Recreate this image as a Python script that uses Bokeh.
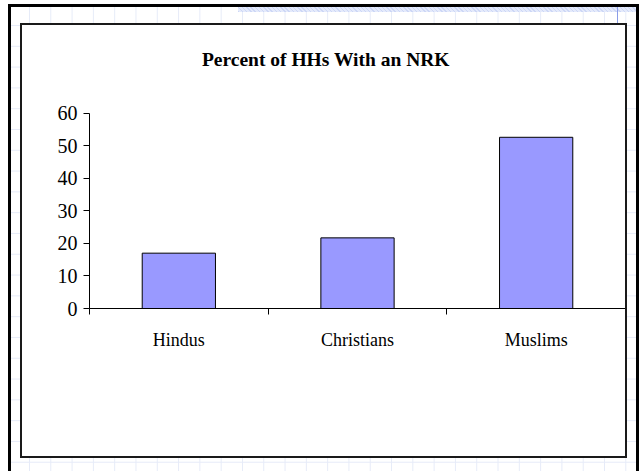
from bokeh.plotting import figure
from bokeh.layouts import column
from bokeh.models import Range1d, LinearAxis, FixedTicker, Label
from bokeh.embed import file_html
from bokeh.resources import INLINE

categories = ["Hindus", "Christians", "Muslims"]
values = [17.0, 21.7, 52.6]
y_ticks = [0, 10, 20, 30, 40, 50, 60]
title_text = "Percent of HHs With an NRK"

FONT = "Liberation Serif"

n = len(categories)
centers = [i + 0.5 for i in range(n)]
edges = list(range(n + 1))

# frame runs from the top of the inner box down to the value axis;
# the value axis itself covers only 0..60 (axis bounds), leaving room for the title
FIG_W, FIG_H = 603, 431
BORDER_BOTTOM = 148
frame_h = FIG_H - BORDER_BOTTOM
px_per_unit = 195.3 / (y_ticks[-1] - y_ticks[0])
y_top = frame_h / px_per_unit

p = figure(width=FIG_W, height=FIG_H,
           x_range=Range1d(0, n), y_range=Range1d(y_ticks[0], y_top),
           output_backend="svg", toolbar_location=None,
           x_axis_location=None, y_axis_location=None,
           min_border_left=67, min_border_right=0, min_border_top=0,
           min_border_bottom=BORDER_BOTTOM)
p.border_fill_color = "white"
p.background_fill_color = "white"
p.outline_line_color = None
p.xgrid.visible = False
p.ygrid.visible = False

# title (baseline ~33.5px below the inner box top, centred left of the frame centre)
title = Label(x=1.323, y=(frame_h - 33.5) / px_per_unit, text=title_text,
              text_font=FONT, text_font_style="bold", text_font_size="19.5px",
              text_color="black", text_align="center", text_baseline="alphabetic")
p.add_layout(title)

# bars
p.vbar(x=centers, top=values, width=0.41, fill_color="#9999ff",
       line_color="black", line_width=1)

# y axis
yax = LinearAxis(ticker=FixedTicker(ticks=y_ticks, minor_ticks=[]),
                 bounds=(y_ticks[0], y_ticks[-1]))
yax.major_tick_out = 6
yax.major_tick_in = 0
yax.minor_tick_line_color = None
yax.axis_line_color = "black"
yax.major_tick_line_color = "black"
yax.major_label_text_font = FONT
yax.major_label_text_font_size = "20px"
yax.major_label_text_color = "black"
yax.major_label_standoff = 6
p.add_layout(yax, "left")

# x axis: boundary ticks between categories
edge_ax = LinearAxis(ticker=FixedTicker(ticks=edges, minor_ticks=[]))
edge_ax.major_tick_out = 6
edge_ax.major_tick_in = 0
edge_ax.minor_tick_line_color = None
edge_ax.axis_line_color = "black"
edge_ax.major_tick_line_color = "black"
edge_ax.major_label_text_color = None
edge_ax.major_label_text_font_size = "1px"
edge_ax.major_label_standoff = 0
p.add_layout(edge_ax, "below")

# x axis: category names at the centres
cat_ax = LinearAxis(ticker=FixedTicker(ticks=centers, minor_ticks=[]),
                    major_label_overrides={c: name for c, name in zip(centers, categories)})
cat_ax.axis_line_color = None
cat_ax.major_tick_line_color = None
cat_ax.minor_tick_line_color = None
cat_ax.major_label_text_font = FONT
cat_ax.major_label_text_font_size = "18px"
cat_ax.major_label_text_color = "black"
cat_ax.major_label_standoff = 9
p.add_layout(cat_ax, "below")

inner_box = column(p, styles={
    "border": "2px solid #1a1a1a",
    "background-color": "white",
})

outer_box = column(inner_box, styles={
    "margin-left": "8px",
    "margin-top": "4px",
    "border": "3px solid black",
    "padding": "16px 9px 16px 9px",
    "background-color": "white",
    "background-image": (
        "linear-gradient(#8a9ce8, #8a9ce8), "
        "repeating-linear-gradient(45deg, #cdd7f6 0px, #cdd7f6 1px, #e4eafb 1px, #e4eafb 3px), "
        "linear-gradient(to right, #e6ebf8 1px, transparent 1px), "
        "linear-gradient(to bottom, #e6ebf8 1px, transparent 1px)"
    ),
    "background-size": "1px 16px, 398px 5px, 21.3px 20.8px, 21.3px 20.8px",
    "background-position": "606px 0px, 227px 0px, 18px 18px, 18px 18px",
    "background-repeat": "no-repeat, no-repeat, repeat, repeat",
})

open("out.html", "w").write(file_html(outer_box, INLINE))
